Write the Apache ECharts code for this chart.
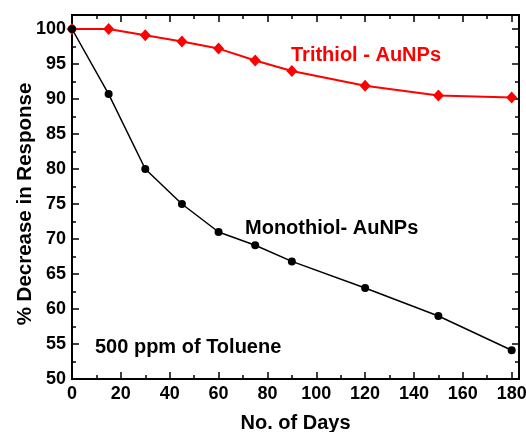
<!DOCTYPE html>
<html><head><meta charset="utf-8">
<script src="https://cdn.jsdelivr.net/npm/echarts@6/dist/echarts.min.js"></script>
<style>html,body{margin:0;padding:0;background:#fff}#c{width:526px;height:432px}</style>
</head><body><div id="c"></div>
<script>
var days = [0, 15, 30, 45, 60, 75, 90, 120, 150, 180];
var trithiol = [100, 100, 99.1, 98.2, 97.2, 95.5, 94.0, 91.9, 90.5, 90.2];
var monothiol = [100, 90.7, 80.0, 75.0, 71.0, 69.1, 66.8, 63.0, 59.0, 54.1];
var xName = 'No. of Days';
var yName = '% Decrease in Response';
var trithiolLabel = 'Trithiol - AuNPs';
var monothiolLabel = 'Monothiol- AuNPs';
var noteLabel = '500 ppm of Toluene';

var FONT = '"Liberation Sans", Arial, sans-serif';
function pairs(xs, ys){ return xs.map(function(x,i){return [x, ys[i]];}); }

var chart = echarts.init(document.getElementById('c'));
var XMAX = 183, YMIN = 50, YMAX = 102;
function xAx(pos, interval, len, labels, extra){
  var o = {type:'value', position:pos, min:0, max:XMAX, interval:interval,
    axisLine:{show:true, onZero:false, lineStyle:{color:'#000', width:2}},
    axisTick:{show:true, inside:true, length:len, lineStyle:{color:'#000', width:1.5}},
    splitLine:{show:false},
    axisLabel:{show:labels, color:'#000', fontFamily:FONT, fontWeight:'bold', fontSize:18, margin:6,
      formatter:function(v){ return v % 20 === 0 ? String(v) : ''; }}};
  return Object.assign(o, extra||{});
}
function yAx(pos, interval, len, labels, extra){
  var o = {type:'value', position:pos, min:YMIN, max:YMAX, interval:interval,
    axisLine:{show:true, onZero:false, lineStyle:{color:'#000', width:2}},
    axisTick:{show:true, inside:true, length:len, lineStyle:{color:'#000', width:1.5}},
    splitLine:{show:false},
    axisLabel:{show:labels, color:'#000', fontFamily:FONT, fontWeight:'bold', fontSize:18, margin:6,
      formatter:function(v){ return v % 5 === 0 ? String(v) : ''; }}};
  return Object.assign(o, extra||{});
}
chart.setOption({
  animation:false,
  grid:{left:72, top:15, right:7, bottom:53, containLabel:false, outerBoundsMode:'none'},
  xAxis:[
    xAx('bottom', 20, 7, true, {name:xName, nameLocation:'middle', nameGap:34,
      nameTextStyle:{color:'#000', fontFamily:FONT, fontWeight:'bold', fontSize:20}}),
    xAx('bottom', 10, 4, false),
    xAx('top', 20, 7, false),
    xAx('top', 10, 4, false)
  ],
  yAxis:[
    yAx('left', 5, 7, true),
    yAx('left', 2.5, 4, false),
    yAx('right', 5, 7, false),
    yAx('right', 2.5, 4, false)
  ],
  series:[
    {type:'line', name:'Trithiol', data:pairs(days, trithiol), xAxisIndex:0, yAxisIndex:0,
      symbol:'diamond', symbolSize:[11,12], showAllSymbol:true,
      lineStyle:{color:'#ff0000', width:2}, itemStyle:{color:'#ff0000'}},
    {type:'line', name:'Monothiol', data:pairs(days, monothiol), xAxisIndex:0, yAxisIndex:0,
      symbol:'circle', symbolSize:8, showAllSymbol:true,
      lineStyle:{color:'#000', width:1.5}, itemStyle:{color:'#000'}}
  ],
  graphic:[
    {type:'text', x:25, y:204, rotation:Math.PI/2,
      style:{text:yName, fill:'#000', font:'bold 20.5px '+FONT, textAlign:'center', textVerticalAlign:'middle'}},
    {type:'text', left:291, top:45, style:{text:trithiolLabel, fill:'#ff0000', font:'bold 20px '+FONT}},
    {type:'text', left:245, top:218, style:{text:monothiolLabel, fill:'#000', font:'bold 20px '+FONT}},
    {type:'text', left:95, top:337, style:{text:noteLabel, fill:'#000', font:'bold 20px '+FONT}}
  ]
});
</script></body></html>
